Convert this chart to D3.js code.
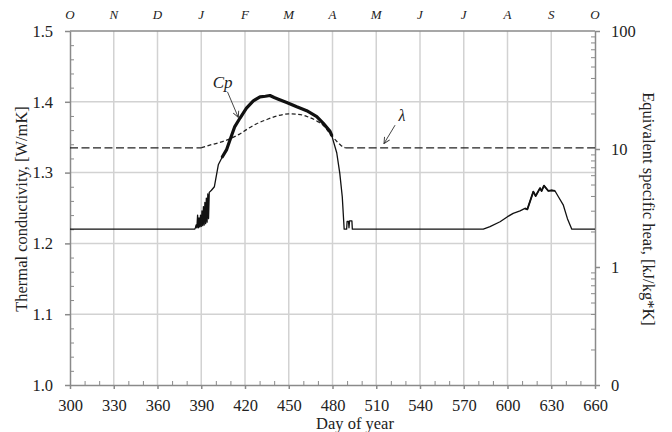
<!DOCTYPE html>
<html>
<head>
<meta charset="utf-8">
<script src="https://cdn.jsdelivr.net/npm/d3@7"></script>
<style>
  body { margin: 0; background: #fff; }
  svg text { font-family: "Liberation Serif", "DejaVu Serif", serif; fill: #222; }
</style>
</head>
<body>
<div id="container"></div>
<script>
// tick labels
const dayTicks = [300, 330, 360, 390, 420, 450, 480, 510, 540, 570, 600, 630, 660];
const monthLabels = ["O", "N", "D", "J", "F", "M", "A", "M", "J", "J", "A", "S", "O"];
const lambdaTicks = [1.0, 1.1, 1.2, 1.3, 1.4, 1.5];
const cpTicks = [0.1, 1, 10, 100];
const cpTickLabels = ["0", "1", "10", "100"];

// thermal conductivity (dashed), W/mK
const lambdaDays = [300, 390, 393, 398, 405, 410, 416, 422, 428, 435, 442, 450, 458, 464, 470, 475, 479, 483, 486, 489, 660];
const lambdaValues = [1.335, 1.335, 1.337, 1.340, 1.344, 1.348, 1.354, 1.362, 1.369, 1.375, 1.380, 1.383, 1.382, 1.378, 1.372, 1.364, 1.353, 1.344, 1.338, 1.335, 1.335];

// equivalent specific heat (solid), kJ/kg*K
const cpDays = [300, 385.5, 386, 386.5, 387, 387.5, 388, 388.5, 389, 389.5, 390, 390.5, 391, 391.5, 392, 392.5, 393, 393.5, 394, 394.5, 395, 395.5,
  397, 399, 401.7, 404.5, 407.3, 409.7, 413, 416.6, 421, 425.7, 430.3, 434, 437.1, 440, 442.9, 448.6, 455.5, 462.3, 469.2, 473.7, 478.3,
  479.4, 482.9, 485, 486.7, 488, 489.7, 490, 491, 491.3, 491.7, 493.3, 493.6,
  583.4, 588, 594.9, 600, 603.9, 608.6, 612, 613.6, 615.4, 617.7, 619.3, 622.3, 623.4, 625, 628, 630.3, 632.6, 634.9, 638.3, 641.1, 644.1, 660];
const cpValues = [2.09, 2.09, 2.15, 2.27, 2.15, 2.75, 2.15, 2.61, 2.18, 2.75, 2.21, 2.99, 2.24, 3.25, 2.27, 3.53, 2.33, 3.84, 2.40, 4.17, 2.57, 4.29,
  4.47, 4.79, 7.35, 8.6, 9.82, 11.9, 15.5, 18.3, 22.2, 25.6, 27.7, 28.0, 28.4, 27.3, 26.4, 24.8, 22.8, 21.1, 18.8, 16.5, 14.1,
  13.1, 9.29, 6.22, 3.94, 2.09, 2.09, 2.43, 2.43, 2.15, 2.46, 2.46, 2.09,
  2.09, 2.2, 2.42, 2.67, 2.85, 2.99, 3.14, 3.08, 3.58, 4.35, 4.0, 4.66, 4.41, 4.89, 4.41, 4.47, 4.41, 3.94, 3.34, 2.57, 2.09, 2.09];

const width = 672;
const height = 432;
const margin = { top: 31, right: 77, bottom: 47, left: 70 };
const serif = "'Liberation Serif', 'DejaVu Serif', serif";

const svg = d3.select("#container")
  .append("svg")
  .attr("width", width)
  .attr("height", height)
  .attr("font-family", serif);

const x = d3.scaleLinear().domain([300, 660]).range([margin.left, width - margin.right]);
const y = d3.scaleLinear().domain([1.0, 1.5]).range([height - margin.bottom, margin.top]);
const yR = d3.scaleLog().domain([0.1, 100]).range([height - margin.bottom, margin.top]);

const axisColor = "#8a8a8a";
const gridColor = "#d2d2d2";

// grid
svg.append("g").selectAll("line")
  .data(dayTicks.slice(1, -1))
  .join("line")
  .attr("x1", d => x(d)).attr("x2", d => x(d))
  .attr("y1", y(1.0)).attr("y2", y(1.5))
  .attr("stroke", gridColor).attr("stroke-width", 1.5);

svg.append("g").selectAll("line")
  .data(lambdaTicks.slice(1, -1))
  .join("line")
  .attr("x1", x(300)).attr("x2", x(660))
  .attr("y1", d => y(d)).attr("y2", d => y(d))
  .attr("stroke", gridColor).attr("stroke-width", 1.5);

// frame top
svg.append("line")
  .attr("x1", x(300)).attr("x2", x(660))
  .attr("y1", y(1.5)).attr("y2", y(1.5))
  .attr("stroke", axisColor).attr("stroke-width", 1.5);

function styleAxis(g) {
  g.attr("font-family", serif).attr("font-size", 16);
  g.selectAll("path, line").attr("stroke", axisColor).attr("stroke-width", 1.5);
  g.selectAll("text").attr("fill", "#222").style("font-family", serif).style("font-size", "16.5px");
}

// left axis
svg.append("g")
  .attr("transform", `translate(${x(300)},0)`)
  .call(d3.axisLeft(y).tickValues(lambdaTicks).tickSize(5).tickPadding(12).tickFormat(d3.format(".1f")).tickSizeOuter(0))
  .call(styleAxis);
svg.append("g")
  .attr("transform", `translate(${x(300)},0)`)
  .call(d3.axisRight(y).tickValues(y.ticks(25).filter(d => Math.abs(d * 10 - Math.round(d * 10)) > 1e-6)).tickSize(4).tickFormat(""))
  .call(g => g.select(".domain").remove())
  .call(g => g.selectAll("line").attr("stroke", axisColor).attr("stroke-width", 1));

// bottom axis
svg.append("g")
  .attr("transform", `translate(0,${y(1.0)})`)
  .call(d3.axisBottom(x).tickValues(dayTicks).tickSize(4).tickPadding(10).tickSizeOuter(0))
  .call(styleAxis);
svg.append("g")
  .attr("transform", `translate(0,${y(1.0)})`)
  .call(d3.axisTop(x).tickValues(x.ticks(36).filter(d => d % 30 !== 0)).tickSize(4).tickFormat(""))
  .call(g => g.select(".domain").remove())
  .call(g => g.selectAll("line").attr("stroke", axisColor).attr("stroke-width", 1));

// right axis (log)
svg.append("g")
  .attr("transform", `translate(${x(660)},0)`)
  .call(d3.axisRight(yR).tickValues(cpTicks).tickSize(5).tickPadding(11).tickFormat((d, i) => cpTickLabels[i]).tickSizeOuter(0))
  .call(styleAxis);
svg.append("g")
  .attr("transform", `translate(${x(660)},0)`)
  .call(d3.axisLeft(yR).tickValues(yR.ticks().filter(d => !cpTicks.includes(d))).tickSize(4).tickFormat(""))
  .call(g => g.select(".domain").remove())
  .call(g => g.selectAll("line").attr("stroke", axisColor).attr("stroke-width", 1));

// month labels on top
svg.append("g").selectAll("text")
  .data(dayTicks)
  .join("text")
  .attr("x", d => x(d))
  .attr("y", 19)
  .attr("text-anchor", "middle")
  .style("font-size", "13px")
  .style("font-style", "italic")
  .text((d, i) => monthLabels[i]);

// axis titles
svg.append("text")
  .attr("transform", `translate(27,${(y(1.0) + y(1.5)) / 2 + 1}) rotate(-90)`)
  .attr("text-anchor", "middle")
  .style("font-size", "16.5px")
  .text("Thermal conductivity, [W/mK]");

svg.append("text")
  .attr("transform", `translate(643,${(y(1.0) + y(1.5)) / 2 + 1}) rotate(90)`)
  .attr("text-anchor", "middle")
  .style("font-size", "16.5px")
  .text("Equivalent specific heat, [kJ/kg*K]");

svg.append("text")
  .attr("x", 355)
  .attr("y", 429)
  .attr("text-anchor", "middle")
  .style("font-size", "16.5px")
  .text("Day of year");

// lambda curve
const lambdaData = lambdaDays.map((d, i) => ({ day: d, v: lambdaValues[i] }));
const lambdaLine = d3.line().x(d => x(d.day)).y(d => y(d.v)).curve(d3.curveMonotoneX);

svg.append("path")
  .datum(lambdaData.filter(d => d.day <= 390))
  .attr("d", lambdaLine)
  .attr("fill", "none").attr("stroke", "#222").attr("stroke-width", 1.3)
  .attr("stroke-dasharray", "8,3.5");
svg.append("path")
  .datum(lambdaData.filter(d => d.day >= 390 && d.day <= 489))
  .attr("d", lambdaLine)
  .attr("fill", "none").attr("stroke", "#222").attr("stroke-width", 1.3)
  .attr("stroke-dasharray", "4,2.5");
svg.append("path")
  .datum(lambdaData.filter(d => d.day >= 489))
  .attr("d", lambdaLine)
  .attr("fill", "none").attr("stroke", "#222").attr("stroke-width", 1.3)
  .attr("stroke-dasharray", "8,3.5");

// Cp curve
const cpData = cpDays.map((d, i) => ({ day: d, v: cpValues[i] }));
const cpLine = d3.line().x(d => x(d.day)).y(d => yR(d.v));

svg.append("path")
  .datum(cpData)
  .attr("d", cpLine)
  .attr("fill", "none").attr("stroke", "#111").attr("stroke-width", 1.3)
  .attr("stroke-linejoin", "round");
svg.append("path")
  .datum(cpData.filter(d => d.day >= 403 && d.day <= 479.4))
  .attr("d", cpLine)
  .attr("fill", "none").attr("stroke", "#111").attr("stroke-width", 3.2)
  .attr("stroke-linejoin", "round").attr("stroke-linecap", "round");
svg.append("path")
  .datum(cpData.filter(d => d.day >= 612 && d.day <= 634))
  .attr("d", cpLine)
  .attr("fill", "none").attr("stroke", "#111").attr("stroke-width", 1.8)
  .attr("stroke-linejoin", "round");

// annotations
svg.append("defs").append("marker")
  .attr("id", "arrow")
  .attr("viewBox", "-7 -4 8 8")
  .attr("markerWidth", 8).attr("markerHeight", 8)
  .attr("markerUnits", "userSpaceOnUse")
  .attr("orient", "auto")
  .append("path")
  .attr("d", "M-6,-3L0,0L-6,3")
  .attr("fill", "none").attr("stroke", "#333").attr("stroke-width", 0.9);

svg.append("text")
  .attr("x", x(404.7)).attr("y", y(1.4195))
  .attr("text-anchor", "middle")
  .style("font-size", "17px").style("font-style", "italic")
  .text("Cp");
svg.append("line")
  .attr("x1", x(408)).attr("y1", y(1.414))
  .attr("x2", x(415.4)).attr("y2", y(1.378))
  .attr("stroke", "#333").attr("stroke-width", 0.9)
  .attr("marker-end", "url(#arrow)");

svg.append("text")
  .attr("x", x(527.7)).attr("y", y(1.373))
  .attr("text-anchor", "middle")
  .style("font-size", "16px").style("font-style", "italic")
  .text("λ");
svg.append("line")
  .attr("x1", x(522.9)).attr("y1", y(1.367))
  .attr("x2", x(515.3)).attr("y2", y(1.341))
  .attr("stroke", "#333").attr("stroke-width", 0.9)
  .attr("marker-end", "url(#arrow)");
</script>
</body>
</html>
